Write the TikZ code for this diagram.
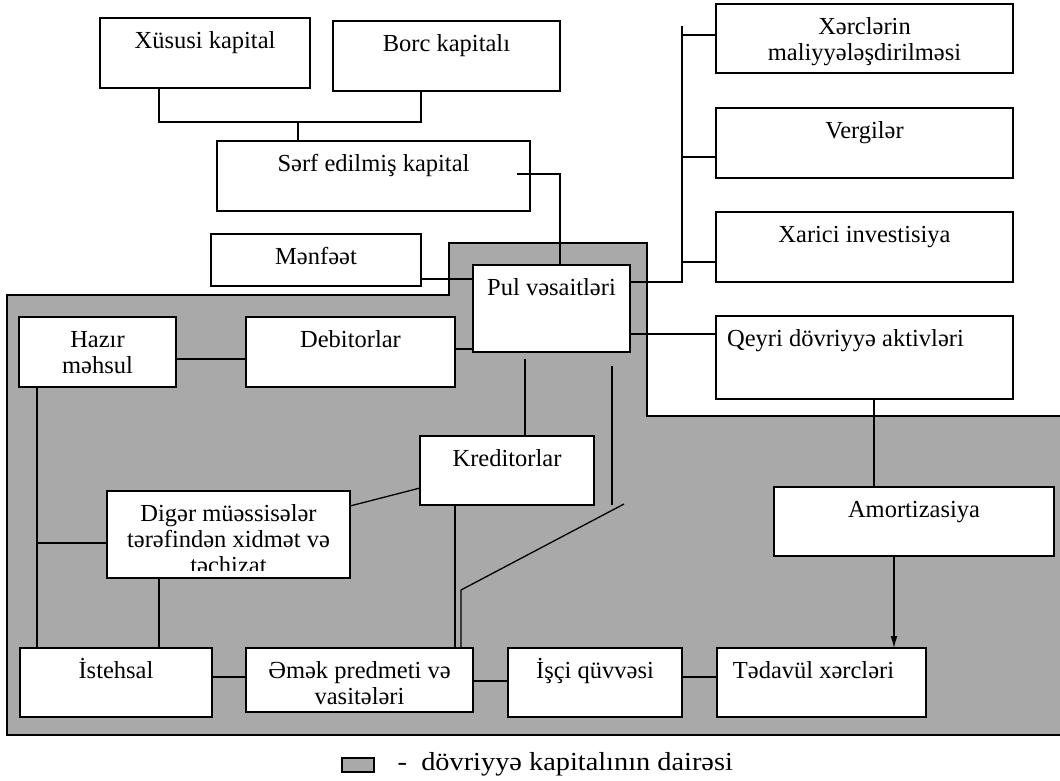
\documentclass[tikz,border=0pt]{standalone}
\usepackage{graphicx}
\usepackage{fontspec}
\setmainfont{Liberation Serif}
\usetikzlibrary{arrows.meta}
\definecolor{zone}{HTML}{A9A9A9}
% box body: fixed-size paragraph with the text hanging from the top edge
\newcommand\bxtext[3]{\parbox[t][#2pt][t]{#1pt}{\centering\rule{0pt}{30pt}#3\par}}
% \bx{name}{x}{y}{width}{height}{text}
\newcommand\bx[6]{\node[box] (#1) at (#2,#3) {\bxtext{#4}{#5}{#6}};}

\begin{document}
\begin{tikzpicture}[x=1pt,y=-1pt,line width=1.3pt,
  every node/.style={font=\fontsize{24.5}{26}\selectfont},
  box/.style={draw,fill=white,inner sep=0pt,outer sep=0pt,anchor=north west},
  zonearea/.style={draw,fill=zone}]
\useasboundingbox (0,0) rectangle (1060,780);

% working-capital circulation zone
\draw[zonearea] (7,295) -- (449,295) -- (449,243) -- (647,243) -- (647,416)
  -- (1062,416) -- (1062,735) -- (7,735) -- cycle;

% boxes
\bx{xus}{100}{18}{210}{70}{Xüsusi kapital}
\bx{borc}{333}{21}{227}{70}{Borc kapitalı}
\bx{serf}{217}{141}{313}{70}{Sərf edilmiş kapital}
\bx{menf}{211}{234}{210}{52}{Mənfəət}
\bx{pul}{473}{265}{157}{87}{Pul vəsaitləri}
\bx{xerc}{716}{4}{297}{69}{Xərclərin\\maliyyələşdirilməsi}
\bx{verg}{716}{108}{297}{70}{Vergilər}
\bx{xar}{716}{212}{297}{70}{Xarici investisiya}
\bx{qeyri}{716}{316}{297}{83}{Qeyri dövriyyə aktivləri\hspace*{38pt}}
\bx{hazir}{19}{317}{157}{70}{Hazır\\məhsul}
\bx{debit}{246}{317}{209}{70}{Debitorlar}
\bx{kred}{420}{436}{174}{69}{Kreditorlar}
\bx{diger}{107}{491}{243}{87}{Digər müəssisələr\\tərəfindən xidmət və\\təchizat}
\fill[white] (108,571) rectangle (349,577.2);
\bx{amort}{774}{487}{280}{69}{Amortizasiya}
\bx{ist}{20}{648}{192}{69}{İstehsal}
\bx{emek}{246}{648}{227}{64}{Əmək predmeti və\\vasitələri}
\bx{isci}{508}{648}{174}{69}{İşçi qüvvəsi}
\bx{tedav}{717}{648}{209}{69}{Tədavül xərcləri\hspace*{16pt}}

% capital sources
\coordinate (jl) at (159,122);
\coordinate (jr) at (421,122);
\coordinate (jm) at (298,122);
\draw (xus.south -| jl) -- (jl) -- (jr) -- (borc.south -| jr);
\draw (jm) -- (serf.north -| jm);

\coordinate (s0) at (517,174);
\coordinate (s1) at (560,174);
\draw (s0) -- (s1) -- (pul.north -| s1);

\coordinate (m1) at (440,279);
\draw (menf.east |- m1) -- (pul.west |- m1);

% outflows on the right
\coordinate (bt) at (682,26);
\coordinate (bb) at (682,282);
\draw (pul.east |- bb) -- (bb) -- (bt);
\coordinate (r1) at (700,35);
\coordinate (r2) at (700,157);
\coordinate (r3) at (700,262);
\draw (bt |- r1) -- (xerc.west |- r1);
\draw (bt |- r2) -- (verg.west |- r2);
\draw (bt |- r3) -- (xar.west |- r3);
\coordinate (q1) at (680,334);
\draw (pul.east |- q1) -- (qeyri.west |- q1);

% circulation links
\coordinate (h1) at (200,359);
\draw (hazir.east |- h1) -- (debit.west |- h1);
\coordinate (d1) at (460,349);
\draw (debit.east |- d1) -- (pul.west |- d1);
\coordinate (pk) at (525,359);
\draw (pk) -- (kred.north -| pk);
\coordinate (k1) at (400,488);
\coordinate (k2) at (360,506);
\draw (kred.west |- k1) -- (diger.east |- k2);
\coordinate (k3) at (455,600);
\draw (kred.south -| k3) -- (emek.north -| k3);
\coordinate (v1) at (612,366);
\coordinate (v2) at (612,505);
\draw (v1) -- (v2);
\coordinate (w1) at (624,504);
\coordinate (w2) at (461,590);
\draw (w1) -- (w2) -- (emek.north -| w2);
\coordinate (l1) at (37,500);
\draw (hazir.south -| l1) -- (ist.north -| l1);
\coordinate (l2) at (37,543);
\draw (l2) -- (diger.west |- l2);
\coordinate (l3) at (159,600);
\draw (diger.south -| l3) -- (ist.north -| l3);
\coordinate (b1) at (230,677);
\draw (ist.east |- b1) -- (emek.west |- b1);
\coordinate (b2) at (490,681);
\draw (emek.east |- b2) -- (isci.west |- b2);
\coordinate (b3) at (700,677);
\draw (isci.east |- b3) -- (tedav.west |- b3);

% depreciation
\coordinate (a1) at (874,450);
\draw (qeyri.south -| a1) -- (amort.north -| a1);
\coordinate (a2) at (894,600);
\draw[-{Latex[length=12pt,width=7pt]}] (amort.south -| a2) -- (tedav.north -| a2);

% legend
\node[draw,fill=zone,inner sep=0pt,minimum width=32pt,minimum height=14pt] (legkey) at (358,765) {};
\node[anchor=base west,inner sep=0pt,font=\fontsize{26}{28}\selectfont] (legtxt) at (397,770)
  {\scalebox{1.09}[1]{-\ \ dövriyyə kapitalının dairəsi}};
\end{tikzpicture}
\end{document}
